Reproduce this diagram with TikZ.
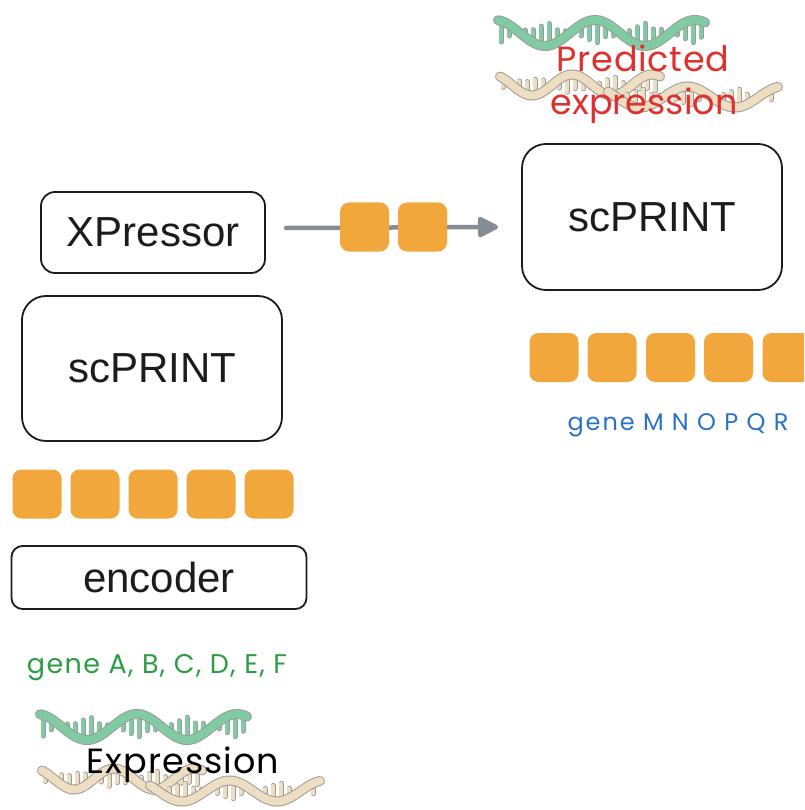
\documentclass[tikz,border=0pt]{standalone}
\usepackage{fontspec}
\setmainfont{Liberation Sans}
\newfontfamily\handfont{Poppins}
\usetikzlibrary{arrows.meta}

\definecolor{boxline}{HTML}{1C1C1C}
\definecolor{tokenorange}{HTML}{F2A73C}
\definecolor{flowgray}{HTML}{868C93}
\definecolor{genegreen}{HTML}{2E9B45}
\definecolor{geneblue}{HTML}{2A72C6}
\definecolor{predred}{HTML}{E0302E}
\definecolor{dnagreen}{HTML}{80CBA3}
\definecolor{dnabeige}{HTML}{EDDDC1}
\definecolor{dnaedge}{HTML}{9C9A98}

\tikzset{
  modelbox/.style={draw=boxline, line width=1.8pt, fill=white, inner sep=0pt,
    font=\fontsize{42}{50}\selectfont, text=boxline},
  token/.style={fill=tokenorange, rounded corners=9pt, minimum size=49pt, inner sep=0pt},
  flow/.style={draw=flowgray, line width=4.5pt, line cap=round,
    -{Triangle[length=23pt,width=22pt,round]}},
  hand/.style={inner sep=0pt, anchor=base},
  rungedge/.style={draw=dnaedge, line width=5pt, line cap=round},
  rungfill/.style={line width=3.2pt, line cap=round},
  ribbonedge/.style={draw=dnaedge, line width=10pt, line cap=round},
  ribbonfill/.style={line width=8pt, line cap=round}
}

% one backbone strand with half rungs pointing to its centre line
% #1 x start, #2 x end, #3 centre line, #4 amplitude, #5 wavelength,
% #6 phase, #7 fill colour, #8 rung length offset
\newcommand{\dnastrand}[8]{%
  \pgfmathtruncatemacro{\nr}{(#2-#1-6)/8}
  \foreach \i in {0,...,\nr}{
    \pgfmathsetmacro{\rx}{#1+3+8*\i}
    \pgfmathsetmacro{\ry}{#3-#4*cos(360/#5*\rx+#6)}
    \pgfmathsetmacro{\rd}{\ry-#3}
    \pgfmathtruncatemacro{\ok}{abs(\rd)>0.28*#4 ? 1 : 0}
    \pgfmathsetmacro{\re}{#3-(0.35+0.2*mod(\i+#8,3))*\rd}
    \ifnum\ok=1
      \draw[rungedge] (\rx,\ry) -- (\rx,\re);
      \draw[rungfill,#7] (\rx,\ry) -- (\rx,\re);
    \fi
  }
  \draw[ribbonedge] plot[domain=#1:#2,samples=60,smooth] (\x,{#3-#4*cos(360/#5*\x+#6)});
  \draw[ribbonfill,#7] plot[domain=#1:#2,samples=60,smooth] (\x,{#3-#4*cos(360/#5*\x+#6)});
}

% green strand above two beige strands
\newcommand{\dnaclip}{%
  \dnastrand{2}{162}{75}{10.5}{80}{27}{dnabeige}{0}
  \dnastrand{110}{280}{87}{10.5}{95}{2}{dnabeige}{1}
  \dnastrand{0}{207}{23}{13}{100}{11}{dnagreen}{2}
}

\begin{document}
\begin{tikzpicture}[x=1pt,y=-1pt]
  \useasboundingbox (0,0) rectangle (804,810);
  \clip (0,0) rectangle (804,810);

  % DNA artwork
  \begin{scope}[shift={(498,10)}]
    \dnaclip
  \end{scope}
  \begin{scope}[shift={(40,704)}]
    \dnaclip
  \end{scope}

  % model blocks
  \node[modelbox, rounded corners=14pt, minimum width=224pt, minimum height=81pt]
    (xp) at (153,232.5) {XPressor};
  \node[modelbox, rounded corners=24pt, minimum width=260pt, minimum height=145pt]
    (scl) at (152,368.5) {scPRINT};
  \node[modelbox, rounded corners=11pt, minimum width=295pt, minimum height=63pt]
    (enc) at (159,577.5) {encoder};
  \node[modelbox, rounded corners=24pt, minimum width=260pt, minimum height=146pt]
    (scr) at (652,217) {scPRINT};

  % input tokens
  \foreach \k/\cx in {1/37,2/95,3/153,4/211,5/269}
    \node[token] (tin\k) at (\cx,494) {};

  % output tokens
  \foreach \k/\cx in {1/554,2/612,3/670.5,4/728.5,5/787}
    \node[token] (tout\k) at (\cx,357.5) {};

  % transfer arrow with carried tokens
  \coordinate (arrS) at (286,228);
  \coordinate (arrE) at (498,227);
  \draw[flow] (arrS) -- (arrE);
  \node[token] (tmid1) at (364.5,227) {};
  \node[token] (tmid2) at (422.5,227) {};

  % labels
  \node[hand, text=genegreen,
        font={\handfont\addfontfeature{LetterSpace=5}\fontsize{27}{32}\selectfont}]
    (lgenes) at (157,673) {gene A, B, C, D, E, F};
  \node[hand, text=geneblue,
        font={\handfont\addfontfeature{LetterSpace=8}\fontsize{24}{28}\selectfont}]
    (rgenes) at (678,430) {gene M N O P Q R};
  \node[hand, text=black,
        font={\handfont\addfontfeature{LetterSpace=3}\fontsize{35}{40}\selectfont}]
    (expr) at (183,773) {Expression};
  \node[hand, text=predred,
        font={\handfont\addfontfeature{LetterSpace=2}\fontsize{35}{40}\selectfont}]
    (pred1) at (643,72) {Predicted};
  \node[hand, text=predred,
        font={\handfont\fontsize{35}{40}\selectfont}]
    (pred2) at (644,115) {expression};
\end{tikzpicture}
\end{document}
